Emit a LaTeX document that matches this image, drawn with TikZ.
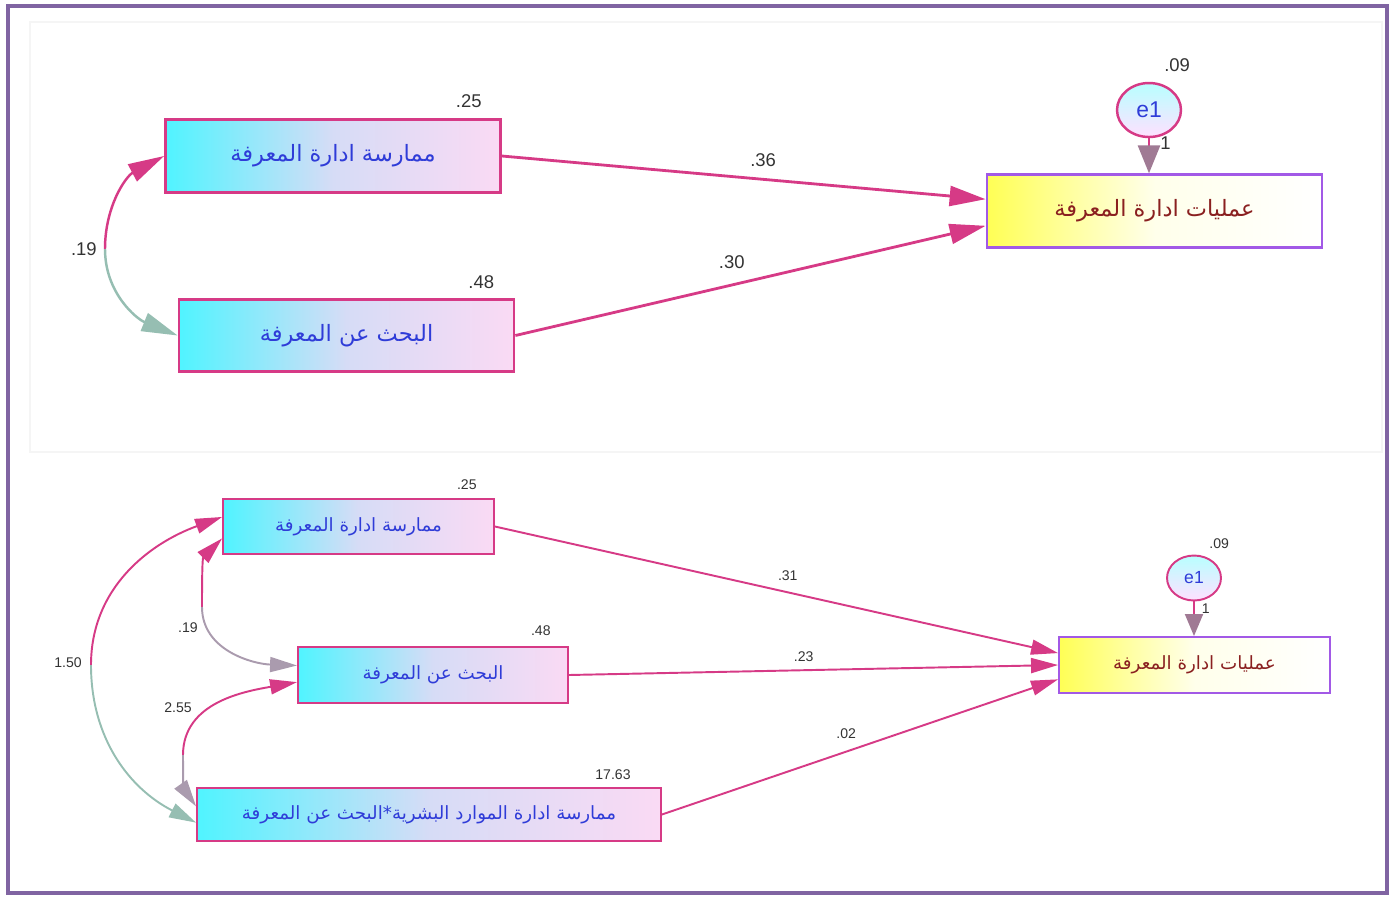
\documentclass[tikz,border=0pt]{standalone}
\usepackage{fontspec}
\setmainfont{Liberation Sans}
\newfontfamily\arabicfont[Script=Arabic]{DejaVu Sans}
\TeXXeTstate=1
\usepackage{tikz}
\usetikzlibrary{arrows.meta,positioning,shapes.geometric}

\definecolor{framepurple}{HTML}{8064A2}
\definecolor{linepink}{HTML}{D63A86}
\definecolor{boxcyan}{HTML}{50F4FF}
\definecolor{boxlav}{HTML}{D6DCF6}
\definecolor{boxpink}{HTML}{FADAF4}
\definecolor{depyellow}{HTML}{FFFF55}
\definecolor{depedge}{HTML}{A259E6}
\definecolor{covteal}{HTML}{96BEB2}
\definecolor{covmauve}{HTML}{AA9BAE}
\definecolor{tipmauve}{HTML}{A07A94}
\definecolor{labblue}{HTML}{2F3CD8}
\definecolor{labred}{HTML}{8A2020}
\definecolor{numgray}{HTML}{333333}

\newcommand{\artxt}[1]{{\arabicfont\beginR #1\endR}}

\begin{document}
\begin{tikzpicture}[x=0.02cm, y=-0.02cm,
    obs/.style={draw=linepink, left color=boxcyan, right color=boxpink, middle color=boxlav, inner sep=0pt, text=labblue},
    dep/.style={draw=depedge, left color=depyellow, right color=white, middle color=yellow!8, inner sep=0pt, text=labred},
    err/.style={ellipse, draw=linepink, top color=cyan!28, bottom color=magenta!12, inner sep=0pt, text=labblue},
    bigbox/.style={minimum width=6.7cm, minimum height=1.45cm, line width=1.6pt, font=\fontsize{12.8}{15}\selectfont},
    smallbox/.style={minimum width=5.42cm, minimum height=1.1cm, line width=1.1pt, font=\fontsize{10.4}{12}\selectfont},
    val/.style={inner sep=0pt, text=numgray},
    topnum/.style={font=\fontsize{10.5}{12}\selectfont},
    botnum/.style={font=\fontsize{8}{9.6}\selectfont},
    topreg/.style={color=linepink, line width=1.6pt, -{Triangle[length=0.72cm, width=0.4cm]}},
    botreg/.style={color=linepink, line width=1.1pt, -{Triangle[length=0.54cm, width=0.3cm]}},
    topcov/.style={line width=1.4pt, -{Triangle[length=0.72cm, width=0.38cm]}},
    botcov/.style={line width=1.1pt, -{Triangle[length=0.54cm, width=0.3cm]}},
  ]
  \useasboundingbox (0,0) rectangle (1394,897);
  \draw[black!4, line width=0.6pt] (30,22) rectangle (1382,452);
  \draw[framepurple, line width=0.08cm] (8,6) rectangle (1387,893);

  % first model
  \node[obs, bigbox] (A1) at (333,156)    {\artxt{ممارسة ادارة المعرفة}};
  \node[obs, bigbox] (B1) at (346.5,335.5) {\artxt{البحث عن المعرفة}};
  \node[dep, bigbox] (Y1) at (1154.5,211)  {\artxt{عمليات ادارة المعرفة}};
  \node[err, line width=1.4pt, minimum width=1.28cm, minimum height=1.08cm,
        font=\fontsize{13}{15}\selectfont] (E1) at (1149,110) {e1};

  \node[val, topnum, above left=0.2cm and 0.4cm of A1.north east]  (vA1) {.25};
  \node[val, topnum, above left=0.18cm and 0.42cm of B1.north east] (vB1) {.48};
  \node[val, topnum, above right=0.2cm and 0.3cm of E1.north]      (vE1) {.09};

  \path[topreg]
    (A1.east) edge node[val, topnum, above=0.22cm, pos=.54] {.36} (Y1.176)
    (B1.east) edge node[val, topnum, above=0.3cm, pos=.46]  {.30} (Y1.185);
  \path[color=linepink, line width=1.6pt, -{Triangle[length=0.56cm, width=0.44cm, color=tipmauve]}]
    (E1.south) edge node[val, topnum, right=0.2cm, pos=.15] {1} (E1.south |- Y1.north);

  \coordinate (c19) at (105,249);
  \path[topcov]
    (c19) edge[out=90, in=208, color=linepink] (A1.west)
    (c19) edge[out=-90, in=158, color=covteal] (B1.west);
  \node[val, topnum, left=0.16cm of c19] (v19) {.19};

  % second model
  \node[obs, smallbox] (A2) at (358.5,526.5) {\artxt{ممارسة ادارة المعرفة}};
  \node[obs, smallbox, minimum width=5.4cm, minimum height=1.12cm] (B2) at (433,675) {\artxt{البحث عن المعرفة}};
  \node[obs, smallbox, minimum width=9.28cm, minimum height=1.06cm] (C2) at (429,814.5) {\artxt{ممارسة ادارة الموارد البشرية*البحث عن المعرفة}};
  \node[dep, smallbox, minimum height=1.12cm] (Y2) at (1194.5,665) {\artxt{عمليات ادارة المعرفة}};
  \node[err, line width=1.1pt, minimum width=1.08cm, minimum height=0.9cm,
        font=\fontsize{10}{12}\selectfont] (E2) at (1194,578) {e1};

  \node[val, botnum, above left=0.16cm and 0.36cm of A2.north east] (vA2) {.25};
  \node[val, botnum, above left=0.2cm and 0.36cm of B2.north east]  (vB2) {.48};
  \node[val, botnum, above left=0.14cm and 0.62cm of C2.north east] (vC2) {17.63};
  \node[val, botnum, above right=0.12cm and 0.3cm of E2.north]      (vE2) {.09};

  \path[botreg]
    (A2.east) edge node[val, botnum, above=0.22cm, pos=.52]  {.31} (Y2.175)
    (B2.east) edge node[val, botnum, above=0.15cm, pos=.48]  {.23} (Y2.west)
    (C2.east) edge node[val, botnum, above=0.25cm, pos=.465] {.02} (Y2.186);
  \path[color=linepink, line width=1.1pt, -{Triangle[length=0.44cm, width=0.36cm, color=tipmauve]}]
    (E2.south) edge node[val, botnum, right=0.14cm, pos=.2] {1} (E2.south |- Y2.north);

  \coordinate (c150) at (91,665);
  \coordinate (c19b) at (202,607);
  \coordinate (c255) at (183,755);
  \path[botcov]
    (c150) edge[out=90, in=200, color=linepink] (A2.176)
    (c150) edge[out=-90, in=153, color=covteal] (C2.182)
    (c19b) edge[out=90, in=225, color=linepink] (A2.185)
    (c19b) edge[out=-90, in=178, color=covmauve] (B2.176)
    (c255) edge[out=90, in=190, color=linepink] (B2.183)
    (c255) edge[out=-90, in=125, color=covmauve] (C2.178);
  \node[val, botnum] (v150) at (68,663)  {1.50};
  \node[val, botnum] (v19b) at (188,628) {.19};
  \node[val, botnum] (v255) at (178,708) {2.55};
\end{tikzpicture}
\end{document}
